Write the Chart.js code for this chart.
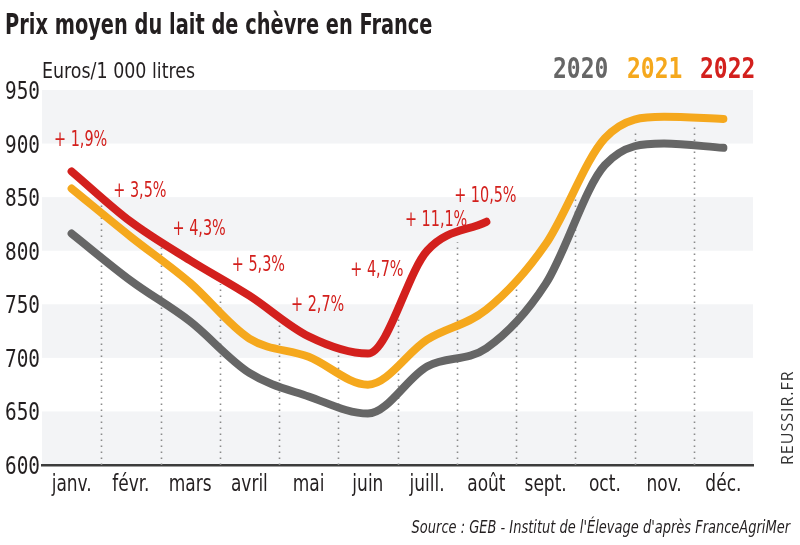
<!DOCTYPE html>
<html>
<head>
<meta charset="utf-8">
<script src="https://cdn.jsdelivr.net/npm/chart.js@4"></script>
<style>
  html, body { margin: 0; padding: 0; background: #fff; }
  #wrap { width: 800px; height: 545px; }
</style>
</head>
<body>
<div id="wrap"><canvas id="laitChart" width="800" height="545"></canvas></div>
<script>
// données (euros / 1 000 litres)
const mois = ["janv.", "févr.", "mars", "avril", "mai", "juin", "juill.", "août", "sept.", "oct.", "nov.", "déc."];
const prix2020 = [816, 772, 734, 686, 664, 648, 692, 709, 769, 880, 900, 896];
const prix2021 = [858, 813, 770, 718, 701, 675, 717, 745, 806, 905, 925, 923];
const prix2022 = [874, 827, 791, 758, 720, 704, 800, 827];
const variations = ["+ 1,9%", "+ 3,5%", "+ 4,3%", "+ 5,3%", "+ 2,7%", "+ 4,7%", "+ 11,1%", "+ 10,5%"];
const yTicks = [600, 650, 700, 750, 800, 850, 900, 950];

const COND = "'DejaVu Sans Condensed', 'DejaVu Sans', sans-serif";
const MONO = "'DejaVu Sans Mono', monospace";
const GRIS = "#666666", JAUNE = "#f5a81d", ROUGE = "#d3201d";

function txt(ctx, s, x, y, font, color, align, sx, sy) {
  ctx.save();
  ctx.font = font;
  ctx.fillStyle = color;
  ctx.textAlign = align || "left";
  ctx.textBaseline = "alphabetic";
  ctx.translate(x, y);
  ctx.scale(sx || 1, sy || 1);
  ctx.fillText(s, 0, 0);
  ctx.restore();
}

// bandes grises alternées
const bandes = {
  id: "bandes",
  beforeDraw(chart) {
    const { ctx, chartArea: a, scales: { y } } = chart;
    ctx.save();
    ctx.fillStyle = "#f3f4f6";
    for (let v = 950; v > 600; v -= 100) {
      const t = y.getPixelForValue(v), b = y.getPixelForValue(v - 50);
      ctx.fillRect(a.left, t, a.right - a.left, b - t);
    }
    ctx.restore();
  }
};

// pointillés entre les mois, jusqu'à la courbe la plus haute
const pointilles = {
  id: "pointilles",
  beforeDatasetsDraw(chart) {
    const { ctx, chartArea: a, scales: { x } } = chart;
    const hautY = (i) => {
      let best = Infinity;
      chart.data.datasets.forEach((ds, di) => {
        const pts = chart.getDatasetMeta(di).data;
        if (pts[i] && pts[i + 1]) best = Math.min(best, (pts[i].y + pts[i + 1].y) / 2);
      });
      return best;
    };
    ctx.save();
    ctx.strokeStyle = "#8a8a8a";
    ctx.lineWidth = 1.6;
    ctx.setLineDash([1.5, 4.5]);
    for (let i = 0; i < mois.length - 1; i++) {
      const px = Math.round((x.getPixelForValue(i) + x.getPixelForValue(i + 1)) / 2) + 0.5;
      ctx.beginPath();
      ctx.moveTo(px, a.bottom);
      ctx.lineTo(px, hautY(i) + 6);
      ctx.stroke();
    }
    ctx.restore();
  }
};

// textes : titre, unité, légende, graduations, variations, source
const textes = {
  id: "textes",
  afterDraw(chart) {
    const { ctx, scales: { x, y } } = chart;
    txt(ctx, "Prix moyen du lait de chèvre en France", 5, 34, "bold 28px " + COND, "#231f20", "left", 0.77, 1);
    txt(ctx, "Euros/1 000 litres", 42, 78, "20px " + COND, "#231f20", "left", 0.97, 1.05);
    txt(ctx, "2020", 553, 78, "bold 23px " + MONO, GRIS, "left", 1, 1.25);
    txt(ctx, "2021", 627, 78, "bold 23px " + MONO, JAUNE, "left", 1, 1.25);
    txt(ctx, "2022", 700, 78, "bold 23px " + MONO, ROUGE, "left", 1, 1.25);

    yTicks.forEach(v => {
      txt(ctx, String(v), 40, y.getPixelForValue(v) + 9, "20px " + MONO, "#231f20", "right", 0.97, 1.25);
    });
    mois.forEach((m, i) => {
      txt(ctx, m, x.getPixelForValue(i), 491, "22px " + COND, "#231f20", "center", 0.86, 1.08);
    });

    const pts = chart.getDatasetMeta(2).data;
    variations.forEach((v, i) => {
      const p = pts[i];
      if (!p) return;
      const dy = i === 5 ? -78 : (i === 7 ? -20 : -25);
      const dx = i === 7 ? -1 : 9;
      txt(ctx, v, p.x + dx, p.y + dy, "20px " + COND, ROUGE, "center", 0.8, 1.05);
    });

    txt(ctx, "Source : GEB - Institut de l'Élevage d'après FranceAgriMer", 790, 533,
      "italic 17px " + COND, "#231f20", "right", 0.85, 1.05);

    ctx.save();
    ctx.translate(793, 465);
    ctx.rotate(-Math.PI / 2);
    ctx.font = "16px 'Open Sans', sans-serif";
    ctx.letterSpacing = "1px";
    ctx.fillStyle = "#333";
    ctx.textAlign = "left";
    ctx.fillText("REUSSIR.FR", 0, 0);
    ctx.restore();
  }
};

const serie = (label, data, color) => ({
  label: label,
  data: data,
  borderColor: color,
  backgroundColor: color,
  borderWidth: 8,
  borderCapStyle: "round",
  borderJoinStyle: "round",
  pointRadius: 0,
  cubicInterpolationMode: "monotone",
  fill: false
});

new Chart(document.getElementById("laitChart"), {
  type: "line",
  data: {
    labels: mois,
    datasets: [
      serie("2020", prix2020, GRIS),
      serie("2021", prix2021, JAUNE),
      serie("2022", prix2022, ROUGE)
    ]
  },
  options: {
    responsive: false,
    animation: false,
    layout: { padding: { top: 90, right: 47, left: 0, bottom: 0 } },
    plugins: { legend: { display: false }, tooltip: { enabled: false }, title: { display: false } },
    scales: {
      x: {
        offset: true,
        grid: { display: false },
        border: { display: true, color: "#3c3c3c", width: 2.5 },
        ticks: { display: false },
        afterFit(s) { s.height = 80; }
      },
      y: {
        min: 600,
        max: 950,
        afterBuildTicks(s) { s.ticks = yTicks.map(v => ({ value: v })); },
        grid: { display: false },
        border: { display: false },
        ticks: { display: false },
        afterFit(s) { s.width = 42; }
      }
    }
  },
  plugins: [bandes, pointilles, textes]
});
</script>
</body>
</html>
